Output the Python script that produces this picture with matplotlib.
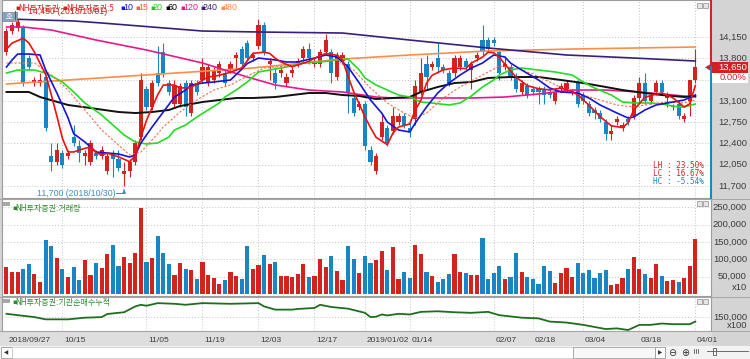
import numpy as np
import matplotlib
matplotlib.use("Agg")
import matplotlib.pyplot as plt
from matplotlib.patches import Rectangle, Polygon
from matplotlib.lines import Line2D
from matplotlib.transforms import blended_transform_factory as blend

plt.rcParams['font.family'] = ['Noto Sans CJK KR', 'DejaVu Sans']

W, H = 750, 359
RED = "#d2231f"
BLUE = "#1986c4"
TXT = "#3c3c3c"
NUMF = "Liberation Sans"

# ---- daily candles (2018/09/27 .. 2019/04/01) ----
opn = np.array([
    13900, 14250, 14300, 14300, 13800, 13400, 13400, 13500, 12200, 12100,
    12250, 12200, 12500, 12350, 12200, 12100, 12250, 12200, 11950, 12250,
    12150, 11900, 11950, 12100, 12500, 13300, 13000, 13550, 13900, 13400,
    13050, 13050, 13400, 12900, 13400, 13450, 13400, 13450, 13550, 13550,
    13600, 13800, 13950, 14050, 13800, 14000, 14350, 13700, 13550, 13550,
    13400, 13550, 13700, 13800, 13950, 13700, 13700, 13900, 13900, 13500,
    13750, 13700, 13150, 13000, 13050, 12300, 11950, 12500, 12650, 12600,
    12750, 12850, 12650, 12800, 13250, 13700, 13650, 13800, 13650, 13550,
    13550, 13650, 13750, 13600, 13800, 14100, 14100, 14100, 13900, 13650,
    13650, 13500, 13250, 13350, 13300, 13300, 13300, 13250, 13100, 13300,
    13300, 13250, 13400, 13200, 13050, 12950, 12900, 12750, 12550, 12750,
    12650, 12800, 12850, 13150, 13400, 13100, 13250, 13400, 13150, 13000,
    13050, 12800, 13100, 13450])
high = np.array([
    14300, 14400, 14450, 14350, 13850, 13500, 13550, 13500, 12400, 12400,
    12300, 12300, 12700, 12450, 12300, 12450, 12300, 12350, 12250, 12300,
    12300, 12100, 12150, 12450, 13550, 13350, 13450, 14000, 14050, 13450,
    13450, 13400, 13450, 13450, 13450, 13800, 13700, 13650, 13750, 13600,
    13750, 13900, 14000, 14100, 13900, 14450, 14400, 13800, 13650, 13650,
    13550, 13650, 13800, 14000, 14050, 13800, 13950, 14200, 13950, 13900,
    13900, 13750, 13200, 13100, 13100, 12350, 12250, 12900, 12700, 13000,
    12900, 12900, 12750, 13450, 13800, 13850, 13750, 14050, 13700, 13600,
    13850, 13850, 13800, 13750, 13900, 14350, 14150, 14150, 13950, 13800,
    13700, 13550, 13450, 13400, 13350, 13350, 13350, 13300, 13300, 13400,
    13450, 13300, 13450, 13250, 13100, 13000, 12950, 12800, 12700, 12850,
    12750, 12850, 13200, 13500, 13550, 13250, 13450, 13450, 13250, 13050,
    13100, 12900, 13450, 13950])
low = np.array([
    13850, 14200, 14250, 13350, 13600, 13350, 13350, 12600, 11950, 12050,
    12000, 12150, 12350, 12100, 12050, 12050, 12150, 12150, 11900, 11850,
    11950, 11700, 11850, 12050, 12450, 12950, 12950, 13350, 13500, 13200,
    13000, 13000, 12850, 12850, 13200, 13400, 13350, 13400, 13500, 13350,
    13550, 13600, 13650, 13750, 13750, 13950, 13850, 13450, 13300, 13500,
    13350, 13500, 13650, 13750, 13700, 13650, 13650, 13850, 13400, 13450,
    13700, 12900, 12850, 12950, 12300, 12050, 11900, 12450, 12350, 12550,
    12700, 12650, 12500, 12700, 13200, 13300, 13600, 13550, 13550, 13350,
    13500, 13600, 13600, 13300, 13750, 13850, 13900, 14000, 13450, 13600,
    13450, 13250, 13200, 13150, 13200, 13050, 13050, 13150, 13050, 13250,
    13250, 13200, 13000, 13050, 12850, 12800, 12750, 12450, 12450, 12700,
    12600, 12700, 12800, 13100, 13050, 13050, 13200, 13200, 13000, 12950,
    12800, 12750, 12850, 13400])
close = np.array([
    14250, 14350, 14400, 13400, 13650, 13450, 13450, 12650, 12100, 12300,
    12050, 12250, 12400, 12250, 12250, 12400, 12200, 12300, 12200, 12150,
    12000, 11950, 12100, 12400, 13450, 13000, 13400, 13400, 13550, 13250,
    13350, 13350, 13000, 13400, 13250, 13650, 13650, 13600, 13700, 13400,
    13700, 13850, 13700, 13800, 13850, 14350, 13900, 13750, 13400, 13600,
    13500, 13600, 13750, 13950, 13800, 13750, 13900, 14100, 13550, 13850,
    13850, 13250, 12900, 13050, 12350, 12100, 12200, 12750, 12400, 12850,
    12850, 12700, 12600, 13350, 13550, 13500, 13700, 13650, 13600, 13400,
    13800, 13800, 13650, 13700, 13850, 13900, 13950, 14050, 13550, 13700,
    13500, 13300, 13400, 13200, 13250, 13250, 13200, 13200, 13250, 13350,
    13400, 13250, 13050, 13100, 12900, 12900, 12800, 12550, 12600, 12800,
    12700, 12750, 13150, 13400, 13100, 13200, 13400, 13250, 13200, 13000,
    12850, 12850, 13450, 13650])

volume = np.array([
    78, 64, 65, 72, 87, 58, 35, 156, 139, 105, 73, 49, 79, 40, 98, 55, 90, 76, 116, 142,
    81, 108, 90, 118, 249, 92, 105, 168, 119, 87, 55, 90, 72, 69, 43, 92, 55, 46, 29, 40,
    64, 52, 44, 139, 72, 84, 113, 87, 92, 52, 53, 49, 59, 87, 49, 53, 101, 78, 110, 66,
    40, 139, 102, 62, 110, 90, 98, 124, 69, 136, 43, 64, 47, 142, 116, 64, 52, 35, 44, 59,
    116, 64, 61, 55, 56, 161, 43, 61, 81, 43, 49, 118, 64, 49, 43, 29, 81, 66, 33, 61,
    76, 49, 90, 61, 69, 47, 61, 69, 26, 28, 47, 72, 108, 72, 59, 46, 87, 53, 38, 40,
    35, 47, 81, 159]) * 1000

# ---- moving averages (candle index, price) ----
ma5_i = [0, 1, 3, 4, 5, 7, 8, 9, 10, 11, 12, 14, 15, 16, 17, 18, 20, 22, 23, 24, 25, 27, 28, 30, 31,
         33, 35, 36, 38, 40, 42, 44, 46, 47, 48, 49, 51, 54, 55, 57, 59, 60, 61, 62, 64, 65, 66, 68,
         69, 70, 72, 73, 74, 75, 76, 78, 80, 82, 83, 85, 86, 87, 88, 89, 91, 93, 95, 97, 99, 101,
         102, 104, 106, 108, 110, 111, 112, 114, 116, 117, 119, 121, 122, 123]
ma5_v = [13950, 14050, 14130, 14050, 13900, 13530, 13200, 12850, 12480, 12260, 12260, 12320, 12340,
         12250, 12210, 12240, 12180, 12100, 12200, 12500, 12780, 13200, 13360, 13360, 13310, 13320,
         13440, 13490, 13520, 13570, 13640, 13880, 13900, 13880, 13800, 13740, 13660, 13750, 13800,
         13880, 13850, 13770, 13500, 13250, 12840, 12660, 12500, 12380, 12570, 12670, 12720, 12950,
         13110, 13390, 13520, 13610, 13640, 13630, 13720, 13820, 13900, 13890, 13820, 13700, 13490,
         13350, 13300, 13280, 13310, 13250, 13200, 13030, 12840, 12690, 12660, 12740, 12950, 13160,
         13210, 13230, 13150, 13000, 13050, 13350]
ma10_i = [0, 1, 2, 4, 6, 7, 9, 11, 12, 14, 16, 18, 20, 22, 23, 24, 26, 28, 30, 32, 33, 35, 37, 40, 42,
          43, 45, 48, 50, 52, 55, 57, 59, 61, 63, 65, 67, 68, 70, 72, 73, 75, 77, 79, 81, 83, 85, 87,
          89, 90, 92, 95, 97, 99, 102, 104, 106, 109, 111, 112, 114, 116, 118, 121, 123]
ma10_v = [13657, 13772, 13870, 13870, 13854, 13607, 13229, 12818, 12560, 12424, 12259, 12243, 12226,
          12177, 12210, 12407, 12670, 12917, 13163, 13278, 13361, 13393, 13410, 13443, 13620, 13714,
          13804, 13772, 13739, 13739, 13804, 13854, 13821, 13657, 13393, 13114, 12900, 12752, 12621,
          12588, 12736, 12999, 13229, 13393, 13525, 13640, 13722, 13854, 13821, 13722, 13607, 13443,
          13311, 13246, 13229, 13147, 13032, 12900, 12818, 12835, 12950, 13032, 13065, 13114, 13196]
ma15_i = [0, 5, 8, 11, 14, 17, 20, 22, 24, 26, 28, 31, 34, 37, 40, 43, 46, 50, 55, 59, 62, 65, 68, 71,
          73, 75, 78, 81, 85, 88, 91, 94, 97, 100, 103, 106, 109, 112, 115, 118, 121, 123]
ma15_v = [13722, 13722, 13525, 13278, 12950, 12621, 12374, 12210, 12259, 12456, 12670, 12917, 13114,
          13278, 13361, 13508, 13640, 13673, 13739, 13772, 13607, 13311, 13065, 12900, 12818, 12900,
          13147, 13328, 13525, 13673, 13640, 13541, 13410, 13278, 13196, 13114, 13032, 12999, 13048,
          13081, 13065, 13114]
ma20_i = [0, 2, 5, 7, 10, 12, 14, 17, 19, 21, 23, 25, 27, 29, 30, 32, 34, 36, 38, 39, 41, 43, 45, 47,
          50, 53, 56, 59, 61, 63, 64, 66, 68, 70, 72, 74, 76, 79, 81, 83, 85, 87, 88, 90, 92, 95, 98,
          101, 103, 105, 108, 110, 112, 115, 117, 120, 121, 123]
ma20_v = [13558, 13607, 13607, 13558, 13410, 13246, 13065, 12867, 12703, 12539, 12424, 12391, 12407,
          12506, 12621, 12703, 12835, 12950, 13065, 13163, 13278, 13410, 13574, 13607, 13657, 13722,
          13739, 13772, 13788, 13607, 13476, 13361, 13278, 13196, 13163, 13081, 13065, 13032, 13065,
          13180, 13328, 13443, 13525, 13607, 13640, 13607, 13574, 13525, 13410, 13311, 13196, 13081,
          13065, 13065, 13048, 12999, 12999, 13048]
ma60_i = [0, 4, 6, 11, 15, 20, 23, 26, 29, 31, 35, 38, 41, 44, 48, 54, 57, 60, 63, 66, 69, 72, 74, 77,
          80, 83, 86, 90, 95, 99, 103, 107, 110, 114, 117, 121, 123]
ma60_v = [13246, 13246, 13163, 13032, 12982, 12917, 12900, 12917, 12950, 13015, 13081, 13114, 13147,
          13147, 13163, 13229, 13229, 13196, 13180, 13130, 13147, 13163, 13246, 13328, 13393, 13410,
          13476, 13492, 13492, 13443, 13393, 13328, 13278, 13229, 13196, 13163, 13180]
ma120_i = [0, 3, 8, 16, 25, 35, 43, 48, 54, 60, 66, 69, 73, 77, 83, 89, 95, 101, 107, 113, 119, 123]
ma120_v = [14314, 14314, 14265, 14100, 13936, 13722, 13492, 13361, 13278, 13246, 13163, 13147, 13147,
           13147, 13147, 13163, 13213, 13278, 13278, 13246, 13196, 13163]
ma240_i = [0, 12, 17, 35, 45, 60, 72, 86, 100, 112, 123]
ma240_v = [14446, 14413, 14380, 14248, 14232, 14215, 14100, 13969, 13854, 13804, 13755]
ma480_i = [0, 44, 60, 72, 86, 101, 123]
ma480_v = [13377, 13640, 13788, 13854, 13920, 13952, 13985]

# ---- institutional cumulative net buying (x100) ----
cum_i = [0, 2, 5, 7, 11, 14, 17, 18, 21, 23, 24, 25, 27, 30, 32, 35, 40, 45, 46, 48, 51, 52, 55, 56,
         58, 61, 64, 65, 66, 67, 68, 70, 72, 74, 77, 80, 83, 86, 88, 92, 95, 97, 100, 103, 107, 109,
         111, 113, 115, 117, 119, 122, 123]
cum_v = np.array([1537, 1523, 1503, 1480, 1480, 1497, 1503, 1535, 1553, 1613, 1630, 1620, 1647, 1640,
                  1630, 1647, 1640, 1647, 1613, 1580, 1580, 1587, 1597, 1630, 1607, 1590, 1547, 1503,
                  1507, 1530, 1520, 1537, 1530, 1557, 1563, 1553, 1547, 1557, 1523, 1497, 1490, 1457,
                  1447, 1423, 1380, 1387, 1370, 1423, 1423, 1437, 1430, 1430, 1457]) * 100

date_idx = [0, 10, 25, 35, 45, 55, 64, 72, 87, 94, 103, 113, 123]
date_lbl = ["2018/09/27", "10/15", "11/05", "11/19", "12/03", "12/17", "2019/01/02",
            "01/14", "02/07", "02/18", "03/04", "03/18", "04/01"]
price_ticks = [14150, 13800, 13450, 13100, 12750, 12400, 12050, 11700]
vol_ticks = [250000, 200000, 150000, 100000, 50000]
cum_ticks = [150000]

legend_items = [("10", "#1515d8"), ("15", "#ff5a3c"), ("20", "#22c822"), ("60", "#000000"),
                ("120", "#e8188a"), ("240", "#3a1f7a"), ("480", "#ff8c48")]


fig = plt.figure(figsize=(7.5, 3.59), dpi=100)
fig.patch.set_facecolor("#d4d4d4")


def frac(x, y):
    return x / W, 1 - y / H


def ftext(x, y, s, **kw):
    fx, fy = frac(x, y)
    return fig.text(fx, fy, s, **kw)


def frect(l, t, r, b, **kw):
    fx, fy = frac(l, b)
    p = Rectangle((fx, fy), (r - l) / W, (b - t) / H, transform=fig.transFigure, **kw)
    fig.add_artist(p)
    return p


def panel(l, t, r, b):
    ax = fig.add_axes([l / W, 1 - b / H, (r - l) / W, (b - t) / H])
    ax.set_facecolor("white")
    ax.set_xticks([])
    ax.set_yticks([])
    for s in ax.spines.values():
        s.set_color("#9c9c9c")
        s.set_linewidth(0.8)
    ax.set_xlim(-0.8, 125.8)
    return ax


grid_kw = dict(color="#c4c4c4", lw=0.7, ls=(0, (1, 2)), zorder=0)

# date strip + scroll bar background (behind everything)
frect(0, 331, 712, 346, fc="#dedede", ec="none", zorder=-2)
frect(0, 346, 750, 359, fc="#f3f3f3", ec="none", zorder=-2)

ax_p = panel(2, 0, 711, 198)
ax_v = panel(2, 199, 711, 296)
ax_c = panel(2, 297, 711, 331)
ax_p.set_ylim(11503, 14758)
ax_v.set_ylim(-5780, 274550)
ax_c.set_ylim(136000, 171000)

for ax in (ax_p, ax_v, ax_c):
    for d in date_idx[1:]:
        ax.axvline(d, **grid_kw)
for p in price_ticks:
    ax_p.axhline(p, **grid_kw)
for v in vol_ticks:
    ax_v.axhline(v, **grid_kw)
for v in cum_ticks:
    ax_c.axhline(v, **grid_kw)

# candles
idx = np.arange(len(close))
up = close >= opn
ccol = np.where(up, RED, BLUE)
body_lo = np.minimum(opn, close)
body_h = np.abs(close - opn)
body_lo = np.where(body_h < 20, body_lo - 9, body_lo)
body_h = np.maximum(body_h, 20)
ax_p.vlines(idx, low, high, colors=ccol, lw=0.8, zorder=2)
ax_p.bar(idx, body_h, bottom=body_lo, width=0.72, color=ccol, lw=0, zorder=3)

# moving averages
ax_p.plot(ma480_i, ma480_v, color="#ff8c48", lw=1.2, zorder=4)
ax_p.plot(ma240_i, ma240_v, color="#3a1f7a", lw=1.2, zorder=4)
ax_p.plot(ma120_i, ma120_v, color="#e8188a", lw=1.2, zorder=4)
ax_p.plot(ma60_i, ma60_v, color="#111111", lw=1.4, zorder=4)
ax_p.plot(ma20_i, ma20_v, color="#22dd22", lw=1.2, zorder=5)
ax_p.plot(ma15_i, ma15_v, color="#ff6a4a", lw=0.8, ls=(0, (2, 1.6)), zorder=5)
ax_p.plot(ma10_i, ma10_v, color="#1515d8", lw=1.2, zorder=6)
ax_p.plot(ma5_i, ma5_v, color="#ee1111", lw=1.2, zorder=7)

# volume + cumulative
ax_v.bar(idx, volume, width=0.72, color=ccol, lw=0, zorder=2)
ax_c.plot(cum_i, cum_v, color="#1e6e1e", lw=1.3, zorder=2)

# right-side scale labels
rt_p = blend(fig.transFigure, ax_p.transData)
rt_v = blend(fig.transFigure, ax_v.transData)
rt_c = blend(fig.transFigure, ax_c.transData)
num_kw = dict(ha="right", va="center", fontsize=6.8, color=TXT, family=NUMF, zorder=3)
for p in price_ticks:
    fig.text(747 / W, p, f"{p:,}", transform=rt_p, **num_kw)
for v in vol_ticks:
    fig.text(747 / W, v, f"{v:,}", transform=rt_v, **num_kw)
ftext(747, 288, "x10", **num_kw)
for v in cum_ticks:
    fig.text(747 / W, v, f"{v:,}", transform=rt_c, **num_kw)
ftext(747, 326, "x100", **num_kw)

# current price box (covers the 13,450 tick, as in the terminal)
last = close[-1]
fig.add_artist(Rectangle((712 / W, last - 85), 36 / W, 170, transform=rt_p,
                         fc="#d42020", ec="none", zorder=4))
fig.add_artist(Rectangle((712 / W, last - 250), 36 / W, 160, transform=rt_p,
                         fc="white", ec="none", zorder=4))
fig.text(747 / W, last, f"{last:,}", transform=rt_p, ha="right", va="center",
         fontsize=6.8, color="white", family=NUMF, zorder=5)
fig.text(747 / W, last - 170, "0.00%", transform=rt_p, ha="right", va="center",
         fontsize=6.8, color="#d42020", family=NUMF, zorder=5)
fig.add_artist(Line2D([711 / W, 711 / W], [14758, last], transform=rt_p, color="#d42020", lw=1.4))
fig.add_artist(Line2D([711 / W, 711 / W], [last, 11503], transform=rt_p, color=BLUE, lw=1.4))
fig.add_artist(Polygon([[705 / W, last], [711 / W, last + 60], [711 / W, last - 60]],
                       closed=True, transform=rt_p, fc="#d42020", ec="none"))

# legend row
ftext(15, 8, "▪", color=RED, fontsize=5, va="center", family="DejaVu Sans")
ftext(18, 8, "NH투자증권", color=RED, fontsize=5.8, va="center")
ftext(62, 8, "▪", color=RED, fontsize=5, va="center", family="DejaVu Sans")
ftext(66, 8, "NH투자증권:5", color=RED, fontsize=5.8, va="center")
lx = 120
for lab, col in legend_items:
    ftext(lx, 8, "▪", color=col, fontsize=5, va="center", family="DejaVu Sans")
    ftext(lx + 3, 8, lab, color=col, fontsize=6.4, va="center", family=NUMF)
    lx += 15 if len(lab) == 2 else 20
ftext(28, 12, "14,450 (2018/10/01)", color=RED, fontsize=6.3, va="center", family=NUMF)
fig.add_artist(Line2D([15 / W, 15 / W], [1 - 11 / H, 1 - 19 / H], transform=fig.transFigure,
                      color=RED, lw=0.7))
frect(2, 12, 17, 21, fc="#8aa0bd", ec="#6c809c", lw=0.5)
ftext(9.5, 16.5, "호", color="white", fontsize=5.5, ha="center", va="center")

# low marker
ax_p.text(19.5, 11585, "11,700 (2018/10/30)", ha="right", va="center", fontsize=6.3,
          color="#3a8fc8", family=NUMF)
ax_p.plot([19.6, 21], [11585, 11585], color="#3a8fc8", lw=0.7)
ax_p.annotate("", xy=(21, 11690), xytext=(21, 11585),
              arrowprops=dict(arrowstyle="-|>", color="#3a8fc8", lw=0.7, mutation_scale=5))

# high/low stats
st_kw = dict(ha="right", va="center", fontsize=5.6, family="DejaVu Sans Mono")
ftext(704, 166, "LH : 23.50%", color=RED, **st_kw)
ftext(704, 174, "LC : 16.67%", color=RED, **st_kw)
ftext(704, 182, "HC : -5.54%", color=BLUE, **st_kw)

# panel titles
frect(3, 202, 10, 206, fc="#a8a8a8", ec="none")
ftext(12, 208, "▪", color="#2e8b2e", fontsize=5, va="center", family="DejaVu Sans")
ftext(15, 208, "NH투자증권:거래량", color="#2e8b2e", fontsize=5.8, va="center")
frect(3, 299, 10, 303, fc="#a8a8a8", ec="none")
ftext(12, 302, "▪", color="#2e8b2e", fontsize=5, va="center", family="DejaVu Sans")
ftext(15, 302, "NH투자증권:기관순매수누적", color="#2e8b2e", fontsize=5.8, va="center")

# small panel buttons
for top in (3, 201, 299):
    frect(697, top, 702, top + 5, fc="#e6e6e6", ec="#8c8c8c", lw=0.5)
    frect(703, top, 708, top + 5, fc="#e6e6e6", ec="#8c8c8c", lw=0.5)

# panel separators
for yy in (198.5, 296.5, 331):
    fig.add_artist(Line2D([0, 1], [1 - yy / H] * 2, transform=fig.transFigure,
                          color="#a6a6a6", lw=0.7))

# date labels
dt = blend(ax_c.transData, fig.transFigure)
for d, lab in zip(date_idx, date_lbl):
    fig.text(d + 0.3, 1 - 341 / H, lab, transform=dt, ha="left", va="center",
             fontsize=6.0, color=TXT, family=NUMF, zorder=3)

# scroll bar
frect(1, 347, 12, 358, fc="white", ec="#9a9a9a", lw=0.6)
ftext(6.5, 352.5, "◀", fontsize=4, ha="center", va="center", color="#333333", family="DejaVu Sans")
frect(12, 347, 573, 358, fc="white", ec="#c8c8c8", lw=0.5)
frect(573, 347, 655, 358, fc="#f7f7f7", ec="#a0a0a0", lw=0.6)
frect(655, 347, 665, 358, fc="white", ec="#9a9a9a", lw=0.6)
ftext(660, 352.5, "▶", fontsize=4, ha="center", va="center", color="#333333", family="DejaVu Sans")
ftext(672, 352.5, "⊖", fontsize=7, ha="center", va="center", color="#333333", family="DejaVu Sans")
ftext(685, 352.5, "⊕", fontsize=7, ha="center", va="center", color="#333333", family="DejaVu Sans")
for k in range(3):
    fig.add_artist(Line2D([(694 + 2 * k) / W] * 2, [1 - 349 / H, 1 - 353 / H],
                          transform=fig.transFigure, color="#333333", lw=0.5))
fig.add_artist(Line2D([707 / W, 748 / W], [1 - 351 / H] * 2, transform=fig.transFigure,
                      color="#555555", lw=0.6))
frect(713, 348, 716, 355, fc="white", ec="#555555", lw=0.6)

fig.savefig("out.png", dpi=100, facecolor=fig.get_facecolor())
